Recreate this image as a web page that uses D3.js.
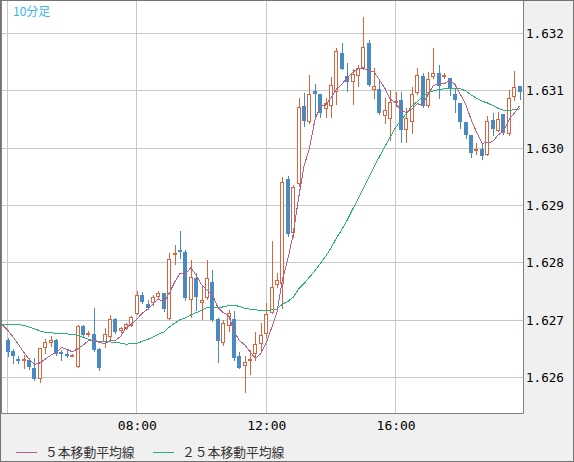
<!DOCTYPE html>
<html>
<head>
<meta charset="utf-8">
<script src="https://cdn.jsdelivr.net/npm/d3@7"></script>
<style>
body{margin:0;background:#f0f0f0}
.mono{font-family:"DejaVu Sans Mono",monospace}
.jp{font-family:"Noto Sans CJK JP",sans-serif}
</style>
</head>
<body>
<div id="container"></div>
<script>
// 10分足 OHLC (04:00 から)
const opens=[1.62665,1.62646,1.62632,1.62629,1.62630,1.62617,1.62597,1.62651,1.62660,1.62665,
1.62644,1.62641,1.62638,1.62618,1.62690,1.62676,1.62676,1.62650,1.62662,1.62671,
1.62702,1.62681,1.62685,1.62690,1.62711,1.62744,1.62728,1.62730,1.62740,1.62747,
1.62702,1.62814,1.62822,1.62819,1.62735,1.62773,1.62730,1.62739,1.62767,1.62702,
1.62660,1.62690,1.62702,1.62638,1.62620,1.62629,1.62641,1.62658,1.62676,1.62712,
1.62761,1.62763,1.62946,1.62852,1.62937,1.63073,1.63045,1.63099,1.63094,1.63068,
1.63073,1.63098,1.63166,1.63126,1.63115,1.63126,1.63140,1.63183,1.63101,1.63103,
1.63056,1.63051,1.63078,1.63084,1.63031,1.63045,1.63096,1.63126,1.63073,1.63124,
1.63131,1.63124,1.63122,1.63094,1.63078,1.63045,1.63023,1.62995,1.62998,1.62988,
1.63049,1.63030,1.63059,1.63024,1.63089,1.63108]
const highs=[1.62669,1.62650,1.62638,1.62639,1.62634,1.62634,1.62651,1.62667,1.62672,1.62667,
1.62648,1.62650,1.62641,1.62692,1.62692,1.62681,1.62721,1.62651,1.62686,1.62709,
1.62704,1.62688,1.62695,1.62707,1.62751,1.62749,1.62735,1.62744,1.62751,1.62747,
1.62817,1.62831,1.62855,1.62822,1.62805,1.62782,1.62760,1.62805,1.62787,1.62704,
1.62700,1.62718,1.62716,1.62644,1.62638,1.62648,1.62679,1.62695,1.62730,1.62838,
1.62782,1.62950,1.62951,1.62936,1.63087,1.63096,1.63127,1.63112,1.63094,1.63087,
1.63124,1.63174,1.63183,1.63148,1.63138,1.63145,1.63228,1.63188,1.63140,1.63119,
1.63087,1.63101,1.63098,1.63098,1.63070,1.63106,1.63140,1.63131,1.63132,1.63174,
1.63145,1.63131,1.63122,1.63105,1.63078,1.63045,1.63023,1.63009,1.63009,1.63056,
1.63061,1.63063,1.63059,1.63101,1.63134,1.63108]
const lows=[1.62638,1.62625,1.62625,1.62617,1.62615,1.62596,1.62592,1.62643,1.62655,1.62639,
1.62630,1.62636,1.62637,1.62618,1.62672,1.62672,1.62646,1.62613,1.62653,1.62665,
1.62678,1.62679,1.62685,1.62690,1.62711,1.62730,1.62719,1.62726,1.62737,1.62716,
1.62702,1.62798,1.62808,1.62735,1.62706,1.62718,1.62702,1.62737,1.62699,1.62627,
1.62657,1.62681,1.62630,1.62617,1.62575,1.62606,1.62630,1.62648,1.62671,1.62712,
1.62758,1.62721,1.62847,1.62845,1.62934,1.63038,1.63044,1.63054,1.63054,1.63054,
1.63054,1.63077,1.63138,1.63099,1.63077,1.63108,1.63138,1.63108,1.63087,1.63059,
1.63044,1.63014,1.63073,1.63011,1.63011,1.63026,1.63094,1.63072,1.63072,1.63122,
1.63087,1.63122,1.63092,1.63063,1.63035,1.63017,1.62984,1.62990,1.62981,1.62988,
1.63023,1.63030,1.63024,1.63023,1.63084,1.63085]
const closes=[1.62644,1.62638,1.62629,1.62632,1.62618,1.62597,1.62651,1.62662,1.62665,1.62641,
1.62641,1.62638,1.62639,1.62690,1.62674,1.62678,1.62648,1.62617,1.62676,1.62702,
1.62679,1.62686,1.62693,1.62706,1.62744,1.62732,1.62721,1.62740,1.62747,1.62719,
1.62807,1.62817,1.62819,1.62739,1.62775,1.62740,1.62735,1.62773,1.62700,1.62664,
1.62695,1.62712,1.62634,1.62617,1.62627,1.62632,1.62658,1.62674,1.62711,1.62758,
1.62770,1.62941,1.62850,1.62932,1.63072,1.63047,1.63094,1.63094,1.63061,1.63078,
1.63110,1.63169,1.63138,1.63115,1.63129,1.63140,1.63176,1.63110,1.63108,1.63061,
1.63066,1.63080,1.63082,1.63031,1.63052,1.63094,1.63127,1.63073,1.63120,1.63131,
1.63108,1.63127,1.63105,1.63084,1.63045,1.63023,1.62991,1.62998,1.62986,1.63047,
1.63033,1.63051,1.63026,1.63087,1.63106,1.63098]

// 画面左端より前の足は見えないので、移動平均の先頭部分は図から読んだ値 (03:50 から)
const ma5Lead=[1.62692,1.62683,1.62671,1.62658,1.62644]
const ma25Lead=[1.62693,1.62693,1.62693,1.62692,1.62691,1.62688,1.62685,1.62681,1.62679,1.62678,1.62677,
1.62676,1.62676,1.62675,1.62674,1.62670,1.62667,1.62664,1.62663,1.62662,1.62662,
1.62661,1.62660,1.62658,1.62659]

const yTicks=[1.626,1.627,1.628,1.629,1.630,1.631,1.632]
const xTickLabels=["08:00","12:00","16:00"]

const width=574
const height=462
const plot={left:1,top:1,right:523,bottom:413}

const upColor="#d9643f"
const downColor="#4a8ac2"
const ma5Color="#b2618e"
const ma25Color="#2bb07a"

const day=new Date(2024,0,1,0,0)
const start=d3.timeHour.offset(day,4)
const times=opens.map((d,i)=>d3.timeMinute.offset(start,10*i))
const parse=d3.timeParse("%H:%M")
const xTicks=xTickLabels.map(s=>{const t=parse(s);return d3.timeMinute.offset(day,t.getHours()*60+t.getMinutes())})

const x=d3.scaleTime()
  .domain([start,d3.timeHour.offset(day,20)])
  .range([7.5,525])
const y=d3.scaleLinear()
  .domain([1.626,1.632])
  .range([377.5,33.3])

const svg=d3.select("#container")
  .append("svg")
  .attr("width",width)
  .attr("height",height)

svg.append("rect")
  .attr("x",0.5).attr("y",0.5)
  .attr("width",width-1).attr("height",height-1)
  .attr("fill","#f0f0f0").attr("stroke","#737373")

svg.append("rect")
  .attr("x",plot.left).attr("y",plot.top)
  .attr("width",plot.right-plot.left).attr("height",plot.bottom-plot.top)
  .attr("fill","#fff")

svg.append("defs").append("clipPath").attr("id","clip")
  .append("rect")
  .attr("x",plot.left+1).attr("y",plot.top)
  .attr("width",plot.right-plot.left-1).attr("height",plot.bottom-plot.top)

// グリッド
const grid=svg.append("g").attr("stroke","#c8c8c8").attr("shape-rendering","crispEdges")
grid.selectAll(".gy").data(yTicks).join("line")
  .attr("x1",plot.left).attr("x2",plot.right)
  .attr("y1",d=>Math.floor(y(d))+0.5).attr("y2",d=>Math.floor(y(d))+0.5)
grid.selectAll(".gx").data([start].concat(xTicks)).join("line")
  .attr("x1",d=>Math.floor(x(d))+0.5).attr("x2",d=>Math.floor(x(d))+0.5)
  .attr("y1",plot.top).attr("y2",plot.bottom)

// 枠
svg.append("path")
  .attr("d",`M${plot.left+0.5},${plot.top}V${plot.bottom+0.5}H${plot.right+0.5}V${plot.top}`)
  .attr("fill","none").attr("stroke","#808080")

const g=svg.append("g").attr("clip-path","url(#clip)")

// ローソク足
const candles=g.selectAll(".c").data(opens).join("g").attr("shape-rendering","crispEdges")
candles.each(function(o,i){
  const el=d3.select(this)
  const cx=Math.round(x(times[i]))
  const c=closes[i]
  const up=c>=o
  const col=up?upColor:downColor
  el.append("line")
    .attr("x1",cx+0.5).attr("x2",cx+0.5)
    .attr("y1",Math.round(y(highs[i]))).attr("y2",Math.round(y(lows[i]))+1)
    .attr("stroke",col)
  const top=Math.round(y(Math.max(o,c)))
  const bot=Math.max(Math.round(y(Math.min(o,c))),top+1)
  if(up){
    el.append("rect")
      .attr("x",cx-1.5).attr("y",top+0.5)
      .attr("width",3).attr("height",Math.max(bot-top-1,1))
      .attr("fill","#fff").attr("stroke",col)
  }else{
    el.append("rect")
      .attr("x",cx-2).attr("y",top)
      .attr("width",4).attr("height",Math.max(bot-top,2))
      .attr("fill",col)
  }
})

// 移動平均線 (先頭は読み取り値、あとは終値から計算)
const lineTimes=[d3.timeMinute.offset(start,-10)].concat(times)
const movingAvg=(n,lead)=>[lead[0]].concat(closes.map((d,i)=>i<n-1?lead[i+1]:d3.mean(closes.slice(i-n+1,i+1))))
const ma5=movingAvg(5,ma5Lead)
const ma25=movingAvg(25,ma25Lead)

const line_generator=d3.line()
  .x((d,i)=>x(lineTimes[i]))
  .y(d=>y(d))

g.append("path").attr("d",line_generator(ma25))
  .attr("fill","none").attr("stroke",ma25Color).attr("shape-rendering","crispEdges")
g.append("path").attr("d",line_generator(ma5))
  .attr("fill","none").attr("stroke",ma5Color).attr("shape-rendering","crispEdges")

// 軸
const yAxis=d3.axisRight(y).tickValues(yTicks).tickFormat(d3.format(".3f")).tickSize(0).tickPadding(0)
svg.append("g")
  .attr("transform",`translate(526,0)`)
  .call(yAxis)
  .call(a=>a.select(".domain").remove())
  .selectAll("text")
  .attr("class","mono").attr("font-size","12.6px").attr("fill","#000")

const xAxis=d3.axisBottom(x).tickValues(xTicks).tickFormat(d3.timeFormat("%H:%M")).tickSize(0).tickPadding(0)
svg.append("g")
  .attr("transform",`translate(0,421)`)
  .call(xAxis)
  .call(a=>a.select(".domain").remove())
  .selectAll("text")
  .attr("class","mono").attr("font-size","13px").attr("fill","#000")

// タイトル
svg.append("text")
  .attr("class","jp").attr("x",13).attr("y",16)
  .attr("font-size","12px").attr("fill","#3cb6e8")
  .text("10分足")

// 凡例
const legend=[{label:"５本移動平均線",color:ma5Color,x:16},{label:"２５本移動平均線",color:ma25Color,x:153}]
const lg=svg.append("g").selectAll("g").data(legend).join("g")
lg.append("line")
  .attr("x1",d=>d.x).attr("x2",d=>d.x+21)
  .attr("y1",452.5).attr("y2",452.5)
  .attr("stroke",d=>d.color)
lg.append("text")
  .attr("class","jp").attr("x",d=>d.x+29).attr("y",457)
  .attr("font-size","12.8px").attr("fill","#333")
  .text(d=>d.label)
</script>
</body>
</html>
